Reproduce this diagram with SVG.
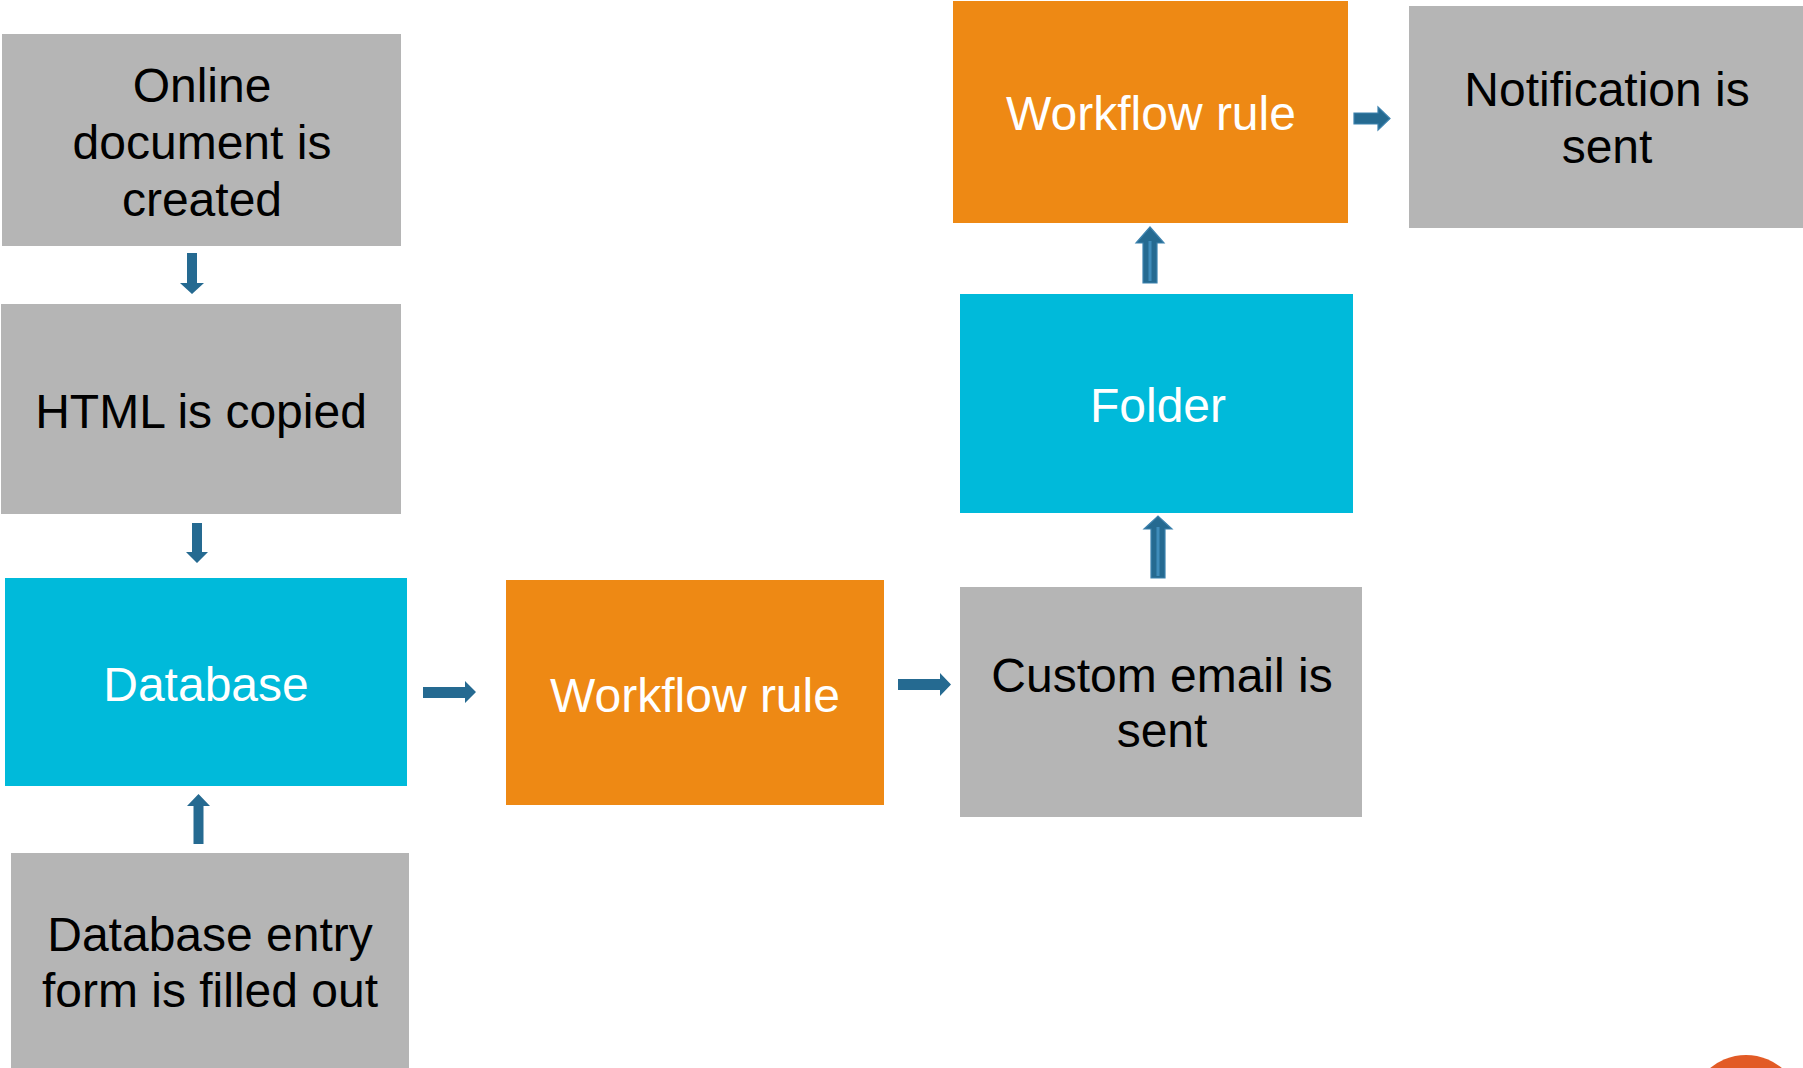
<svg xmlns="http://www.w3.org/2000/svg" width="1803" height="1068" viewBox="0 0 1803 1068">
<style>
.gray{fill:#B5B5B5}
.cyan{fill:#00BADA}
.orange{fill:#EE8914}
.t{font-family:"Liberation Sans",Arial,sans-serif;font-size:48px;text-anchor:middle}
.dk{fill:#000000}
.lt{fill:#FFFFFF}
.arr{fill:#256A91}
.arr2{fill:#256A91;stroke:#3C82AE;stroke-width:1.2}
.stripe{stroke:#3F8CBA;stroke-width:3}
</style>
<rect width="1803" height="1068" fill="#FFFFFF"/>
<g id="online-document">
<rect class="gray" x="2" y="34" width="399" height="212"/>
<text class="t dk" x="202" y="102">Online</text>
<text class="t dk" x="202" y="159">document is</text>
<text class="t dk" x="202" y="216">created</text>
</g>
<g id="html-copied">
<rect class="gray" x="1" y="304" width="400" height="210"/>
<text class="t dk" x="201" y="428">HTML is copied</text>
</g>
<g id="database">
<rect class="cyan" x="5" y="578" width="402" height="208"/>
<text class="t lt" x="206" y="701">Database</text>
</g>
<g id="db-entry-form">
<rect class="gray" x="11" y="853" width="398" height="220"/>
<text class="t dk" x="210" y="951">Database entry</text>
<text class="t dk" x="210" y="1007">form is filled out</text>
</g>
<g id="workflow-rule-1">
<rect class="orange" x="506" y="580" width="378" height="225"/>
<text class="t lt" x="695" y="712">Workflow rule</text>
</g>
<g id="custom-email">
<rect class="gray" x="960" y="587" width="402" height="230"/>
<text class="t dk" x="1162" y="692">Custom email is</text>
<text class="t dk" x="1162" y="747">sent</text>
</g>
<g id="folder">
<rect class="cyan" x="960" y="294" width="393" height="219"/>
<text class="t lt" x="1158" y="422">Folder</text>
</g>
<g id="workflow-rule-2">
<rect class="orange" x="953" y="1" width="395" height="222"/>
<text class="t lt" x="1151" y="130">Workflow rule</text>
</g>
<g id="notification">
<rect class="gray" x="1409" y="6" width="394" height="222"/>
<text class="t dk" x="1607" y="106">Notification is</text>
<text class="t dk" x="1607" y="163">sent</text>
</g>
<g id="connectors">
<polygon class="arr" points="187,253 197,253 197,283 204,283 192,294 180,283 187,283"/>
<polygon class="arr" points="192,523 202,523 202,552 208,552 197,563 186,552 192,552"/>
<polygon class="arr" points="193.5,844 203.5,844 203.5,806 210,806 198.5,794 187,806 193.5,806"/>
<polygon class="arr" points="423,687 465,687 465,681 476,692 465,703 465,698 423,698"/>
<polygon class="arr" points="898,679 940,679 940,673 951,684.5 940,696 940,690 898,690"/>
<polygon class="arr2" points="1151,578 1165,578 1165,529 1172,529 1158,516 1144,529 1151,529"/>
<line class="stripe" x1="1158" y1="576" x2="1158" y2="527"/>
<polygon class="arr2" points="1143,283 1157,283 1157,243 1164,243 1150,227 1136,243 1143,243"/>
<line class="stripe" x1="1150" y1="281" x2="1150" y2="241"/>
<polygon class="arr2" points="1354,113 1378,113 1378,107 1390,118.5 1378,130 1378,124 1354,124"/>
</g>
<circle cx="1746" cy="1111" r="56" fill="#E25B26"/>
</svg>
